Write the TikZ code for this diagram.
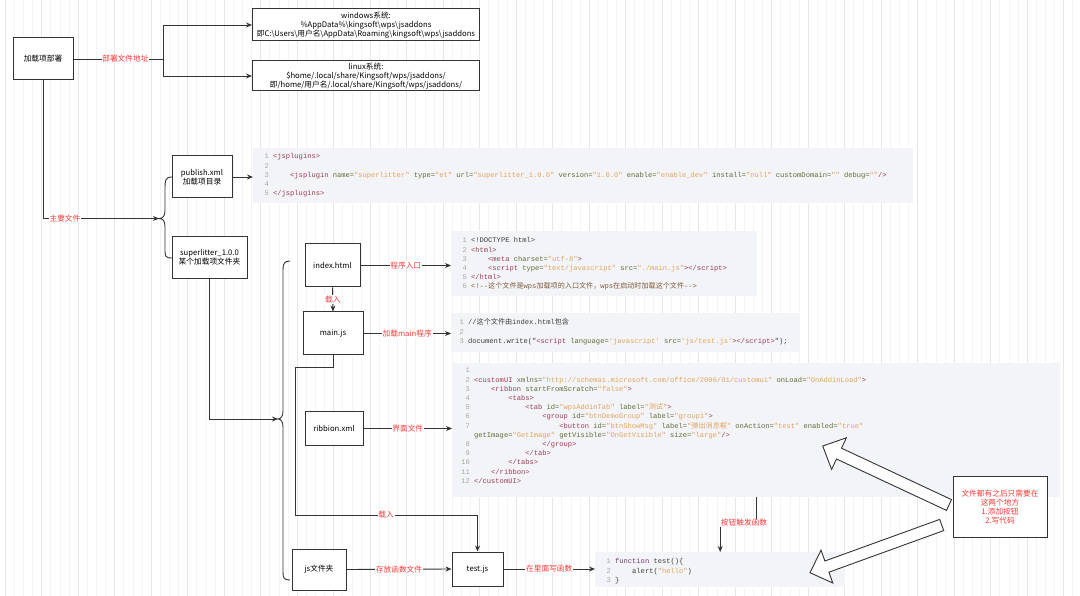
\documentclass[tikz,border=0pt]{standalone}
\usepackage{fontspec}
\setmainfont{Noto Sans CJK SC}
\setmonofont{Liberation Mono}
\newfontfamily\cjk{Noto Sans CJK SC}
\usetikzlibrary{arrows.meta,positioning}

\definecolor{linegray}{HTML}{333333}
\definecolor{labelred}{HTML}{F03C3C}
\definecolor{codefill}{HTML}{F3F4F7}
\definecolor{codeplain}{HTML}{3C3C3C}
\definecolor{lnum}{HTML}{A8A8A8}
\definecolor{ctag}{HTML}{9B3B55}
\definecolor{cattr}{HTML}{5E6B35}
\definecolor{cval}{HTML}{E2A45E}
\definecolor{ccom}{HTML}{7D5B3C}
\definecolor{ckey}{HTML}{6E3A6A}
\definecolor{gridminor}{HTML}{F4F4F4}
\definecolor{gridmajor}{HTML}{E6E6E6}

\newcommand\lno[1]{\strut\makebox[1.2em][r]{\textcolor{lnum}{#1}}\hspace{0.6em}}
\newcommand\tabin[1]{\hspace*{#1\dimexpr2.4em\relax}}
\newcommand\ctg[1]{\textcolor{ctag}{#1}}
\newcommand\cnm[1]{\textcolor{cattr}{#1}}
\newcommand\cvl[1]{\textcolor{cval}{#1}}
\newcommand\bsl{\textbackslash}

\begin{document}
\begin{tikzpicture}[x=1pt, y=-1pt, font=\fontsize{7.7}{9}\selectfont, line join=miter,
    box/.style={draw=linegray, fill=white, line width=1pt, align=center, inner sep=1pt},
    lbl/.style={text=labelred, fill=white, inner sep=0.8pt},
    conn/.style={draw=linegray, line width=0.9pt},
    arr/.style={conn, -{Stealth[length=6pt, width=5pt]}},
    codebg/.style={fill=codefill, inner sep=0pt, anchor=north west},
    codetxt/.style={anchor=north west, align=left, inner sep=0pt, text=codeplain, font=\fontsize{7.1}{9.2}\selectfont\ttfamily},
    hollow/.style={draw=linegray, fill=white, line width=0.9pt}]
    \useasboundingbox (0,0) rectangle (1080,596);
    \fill[white] (0,0) rectangle (1080,596);
    \draw[gridminor, line width=0.4pt, step=9.125, shift={(5,0.75)}] (-5,-0.75) grid (1080,596);
    \draw[gridmajor, line width=0.5pt, step=36.5, shift={(5,19)}] (-5,-19) grid (1080,596);

    % code panels
    \node[codebg, minimum width=660, minimum height=55] (codepub) at (253,148) {};
    \node[codebg, minimum width=306, minimum height=65] (codeindex) at (451,231) {};
    \node[codebg, minimum width=349, minimum height=39] (codemain) at (451,313) {};
    \node[codebg, minimum width=608, minimum height=134] (coderibbon) at (452,363) {};
    \node[codebg, minimum width=250, minimum height=35] (codetest) at (595,552) {};

    \node[codetxt] (txtpub) at (260.2,152.2) {\lno{1}\ctg{<jsplugins>}\\
        \lno{2}\\
        \lno{3}\tabin{1}\ctg{<jsplugin} \cnm{name=}\cvl{"superlitter"} \cnm{type=}\cvl{"et"} \cnm{url=}\cvl{"superlitter\_1.0.0"} \cnm{version=}\cvl{"1.0.0"} \cnm{enable=}\cvl{"enable\_dev"} \cnm{install=}\cvl{"null"} \cnm{customDomain=}\cvl{""} \cnm{debug=}\cvl{""}\ctg{/>}\\
        \lno{4}\\
        \lno{5}\ctg{</jsplugins>}};
    \node[codetxt] (txtindex) at (458.2,236.2) {\lno{1}<!DOCTYPE html>\\
        \lno{2}\ctg{<html>}\\
        \lno{3}\tabin{1}\ctg{<meta} \cnm{charset=}\cvl{"utf-8"}\ctg{>}\\
        \lno{4}\tabin{1}\ctg{<script} \cnm{type=}\cvl{"text/javascript"} \cnm{src=}\cvl{"./main.js"}\ctg{></script>}\\
        \lno{5}\ctg{</html>}\\
        \lno{6}\textcolor{ccom}{<!--{\cjk 这个文件是}wps{\cjk 加载项的入口文件，}wps{\cjk 在启动时加载这个文件}-->}};
    \node[codetxt] (txtmain) at (455.2,318.2) {\lno{1}//{\cjk 这个文件由}index.html{\cjk 包含}\\
        \lno{2}\\
        \lno{3}document.write("\ctg{<script} \cnm{language=}\cvl{'javascript'} \cnm{src=}\cvl{'js/test.js'}\ctg{></script>}");};
    \node[codetxt] (txtribbon) at (461.2,366.2) {\lno{1}\\
        \lno{2}\ctg{<customUI} \cnm{xmlns=}\cvl{"http://schemas.microsoft.com/office/2006/01/customui"} \cnm{onLoad=}\cvl{"OnAddinLoad"}\ctg{>}\\
        \lno{3}\tabin{1}\ctg{<ribbon} \cnm{startFromScratch=}\cvl{"false"}\ctg{>}\\
        \lno{4}\tabin{2}\ctg{<tabs>}\\
        \lno{5}\tabin{3}\ctg{<tab} \cnm{id=}\cvl{"wpsAddinTab"} \cnm{label=}\cvl{"{\cjk 测试}"}\ctg{>}\\
        \lno{6}\tabin{4}\ctg{<group} \cnm{id=}\cvl{"btnDemoGroup"} \cnm{label=}\cvl{"group1"}\ctg{>}\\
        \lno{7}\tabin{5}\ctg{<button} \cnm{id=}\cvl{"btnShowMsg"} \cnm{label=}\cvl{"{\cjk 弹出消息框}"} \cnm{onAction=}\cvl{"test"} \cnm{enabled=}\cvl{"true"}\\
        \lno{}\cnm{getImage=}\cvl{"GetImage"} \cnm{getVisible=}\cvl{"OnGetVisible"} \cnm{size=}\cvl{"large"}\ctg{/>}\\
        \lno{8}\tabin{4}\ctg{</group>}\\
        \lno{9}\tabin{3}\ctg{</tab>}\\
        \lno{10}\tabin{2}\ctg{</tabs>}\\
        \lno{11}\tabin{1}\ctg{</ribbon>}\\
        \lno{12}\ctg{</customUI>}};
    \node[codetxt] (txttest) at (602.2,557.2) {\lno{1}\textcolor{ckey}{function} test()\{\\
        \lno{2}\tabin{1}alert(\cvl{"hello"})\\
        \lno{3}\}};

    % boxes
    \node[box, minimum width=60, minimum height=42] (deploy) at (43,59) {加载项部署};
    \node[box, minimum width=227, minimum height=32] (win) at (366,25) {windows系统:\\\%AppData\%\bsl kingsoft\bsl wps\bsl jsaddons\\即C:\bsl Users\bsl 用户名\bsl AppData\bsl Roaming\bsl kingsoft\bsl wps\bsl jsaddons};
    \node[box, minimum width=227, minimum height=30] (linux) at (366,76) {linux系统:\\\$home/.local/share/Kingsoft/wps/jsaddons/\\即/home/用户名/.local/share/Kingsoft/wps/jsaddons/};
    \node[box, minimum width=60, minimum height=42] (publish) at (202,177) {publish.xml\\加载项目录};
    \node[box, minimum width=75, minimum height=42] (superlitter) at (209.5,257.5) {superlitter\_1.0.0\\某个加载项文件夹};
    \node[box, minimum width=55, minimum height=43] (index) at (332.5,265.5) {index.html};
    \node[box, minimum width=60, minimum height=43] (mainjs) at (333,333.5) {main.js};
    \node[box, minimum width=58, minimum height=34] (ribbon) at (334,428.5) {ribbion.xml};
    \node[box, minimum width=54, minimum height=41] (jsdir) at (319,569.5) {js文件夹};
    \node[box, minimum width=51, minimum height=34] (testjs) at (477.5,569) {test.js};
    \node[box, minimum width=94, minimum height=61, text=labelred] (note) at (1000,507) {文件都有之后只需要在\\这两个地方\\1.添加按钮\\2.写代码};

    % connectors
    \coordinate (fork) at (163,59);
    \coordinate (tip1) at (159,218.5);
    \coordinate (tip2) at (278,419);
    \coordinate (loadturn) at (295,515);
    \draw[conn] (deploy.east) -- node[lbl, pos=0.58] (lbladdr) {部署文件地址} (fork);
    \draw[arr] (fork) |- (win.west);
    \draw[arr] (fork) |- (linux.west);
    \draw[arr] (deploy.south) |- (tip1);
    \node[lbl] (lblfiles) at (65,219) {主要文件};
    \draw[conn] (172,177) .. controls (165,177) and (165,181) .. (165,188) -- (165,210) .. controls (165,216) and (163,218.5) .. (tip1) .. controls (163,218.5) and (165,221) .. (165,227) -- (165,249) .. controls (165,256) and (165,258) .. (172,258);
    \draw[arr] (publish.east) -- (publish.east -| codepub.west);
    \draw[arr] (superlitter.south) |- (tip2);
    \draw[conn] (290,261) .. controls (284,261) and (283,264) .. (283,270) -- (283,411) .. controls (283,416) and (281,419) .. (tip2) .. controls (281,419) and (283,422) .. (283,427) -- (283,572) .. controls (283,578) and (284,580) .. (290,580);
    \draw[arr] (index.east) -- node[lbl] (lblentry) {程序入口} (index.east -| codeindex.west);
    \draw[arr] (index.south) -- node[lbl] (lblload) {载入} (mainjs.north);
    \draw[arr] (mainjs.east) -- node[lbl] (lblmain) {加载main程序} (mainjs.east -| codemain.west);
    \draw[arr] (mainjs.south) -- ++(0,12) -| (loadturn) -| (testjs.north);
    \node[lbl] (lblload2) at (386,515) {载入};
    \draw[arr] (ribbon.east) -- node[lbl] (lblui) {界面文件} (ribbon.east -| coderibbon.west);
    \draw[arr] (coderibbon.south) -- ++(0,26) -| (codetest.north);
    \node[lbl] (lbltrigger) at (744,523) {按钮触发函数};
    \draw[arr] (jsdir.east) -- node[lbl] (lblstore) {存放函数文件} (testjs.west);
    \draw[arr] (testjs.east) -- node[lbl] (lblwrite) {在里面写函数} (codetest.west |- testjs.east);

    % hint arrows
    \draw[hollow] (951.5,499.6) -- (841.5,448.2) -- (846.4,437.8) -- (822.7,446) -- (831.6,469.4) -- (836.5,459.0) -- (946.5,510.4) -- cycle;
    \draw[hollow] (943.7,530.6) -- (828.9,572.2) -- (832.8,583.0) -- (810,572.7) -- (821.0,550.2) -- (824.9,561.0) -- (939.7,519.4) -- cycle;
\end{tikzpicture}
\end{document}
